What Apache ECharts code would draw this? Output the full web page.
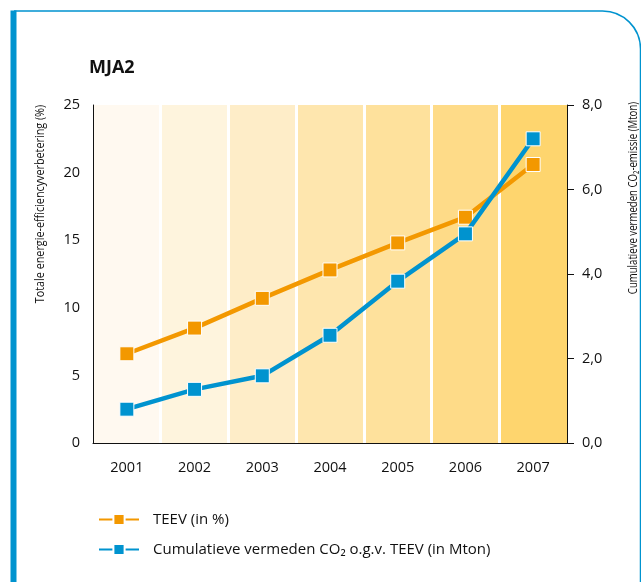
<!DOCTYPE html>
<html>
<head>
<meta charset="utf-8">
<script src="https://cdn.jsdelivr.net/npm/echarts@6/dist/echarts.min.js"></script>
<style>
html,body{margin:0;padding:0;background:#fff;}
#chart{width:641px;height:582px;}
</style>
</head>
<body>
<div id="chart"></div>
<script>
const years = ['2001','2002','2003','2004','2005','2006','2007'];
const teev = [6.6, 8.5, 10.7, 12.8, 14.8, 16.7, 20.6];
const co2 = [0.80, 1.27, 1.59, 2.55, 3.83, 4.95, 7.20];
const bandColors = ['#FFF9F0','#FEF4DD','#FEEDC8','#FEE6AE','#FEE19C','#FEDB88','#FED56E'];
const leftTicks = {min:0, max:25, interval:5};
const rightTicks = {min:0, max:8, interval:2};

const FONT = '"Open Sans", "Noto Sans", sans-serif';
const BLUE = '#0093CF';
const ORANGE = '#F39800';

const chart = echarts.init(document.getElementById('chart'), null, {renderer:'canvas'});
chart.setOption({
  animation:false,
  textStyle:{fontFamily:FONT},
  grid:{left:93, right:74, top:105, bottom:139, containLabel:false},
  graphic:[
    {type:'rect', z:100, shape:{x:14, y:11, width:626.5, height:620, r:[0,38,0,0]},
     style:{fill:null, stroke:BLUE, lineWidth:1.5}},
    {type:'rect', z:101, shape:{x:10.5, y:10.5, width:6, height:600}, style:{fill:BLUE}},
    {type:'text', left:89, top:59, style:{text:'MJA2', font:'bold 18px '+FONT, fill:'#111'}},
    {type:'text', x:40, y:204, rotation:Math.PI/2, scaleX:0.83,
     style:{text:'Totale energie-efficiencyverbetering (%)', font:'13px '+FONT, fill:'#111', align:'center', verticalAlign:'middle'}},
    {type:'text', x:633, y:198, rotation:Math.PI/2, scaleX:0.74,
     style:{text:'Cumulatieve vermeden CO\u2082-emissie (Mton)', font:'13px '+FONT, fill:'#111', align:'center', verticalAlign:'middle'}}
  ],
  legend:{
    orient:'vertical', left:93, top:507, itemGap:15, itemWidth:40, itemHeight:14,
    textStyle:{fontSize:15, color:'#111', padding:[0,0,0,9], fontFamily:FONT},
    data:['TEEV (in %)','Cumulatieve vermeden CO\u2082 o.g.v. TEEV (in Mton)']
  },
  xAxis:{
    type:'category', data:years, boundaryGap:true,
    axisLine:{show:true, lineStyle:{color:'#111', width:1}},
    axisTick:{show:false},
    axisLabel:{fontSize:14.5, color:'#111', margin:17},
    splitArea:{show:true, areaStyle:{color:bandColors}},
    splitLine:{show:true, showMinLine:false, showMaxLine:false, lineStyle:{color:'#fff', width:3}}
  },
  yAxis:[
    {type:'value', min:leftTicks.min, max:leftTicks.max, interval:leftTicks.interval, position:'left',
     axisLine:{show:true, lineStyle:{color:'#111', width:1}},
     axisTick:{show:false},
     axisLabel:{fontSize:14.5, color:'#111', margin:13},
     splitLine:{show:true, lineStyle:{color:'#222', width:1, type:[2,2]}}
    },
    {type:'value', min:rightTicks.min, max:rightTicks.max, interval:rightTicks.interval, position:'right',
     axisLine:{show:true, lineStyle:{color:'#111', width:1}},
     axisTick:{show:true, length:7, lineStyle:{color:'#111'}},
     axisLabel:{fontSize:14.5, color:'#111', margin:15, formatter:v=>v.toFixed(1).replace('.',',')},
     splitLine:{show:false}
    }
  ],
  series:[
    {name:'TEEV (in %)', type:'line', yAxisIndex:0, data:teev,
     symbol:'rect', symbolSize:14, lineStyle:{color:ORANGE, width:4.5},
     itemStyle:{color:ORANGE, borderColor:'#fff', borderWidth:1}, z:3},
    {name:'Cumulatieve vermeden CO\u2082 o.g.v. TEEV (in Mton)', type:'line', yAxisIndex:1, data:co2,
     symbol:'rect', symbolSize:14, lineStyle:{color:BLUE, width:4.5},
     itemStyle:{color:BLUE, borderColor:'#fff', borderWidth:1}, z:4}
  ]
});
</script>
</body>
</html>
